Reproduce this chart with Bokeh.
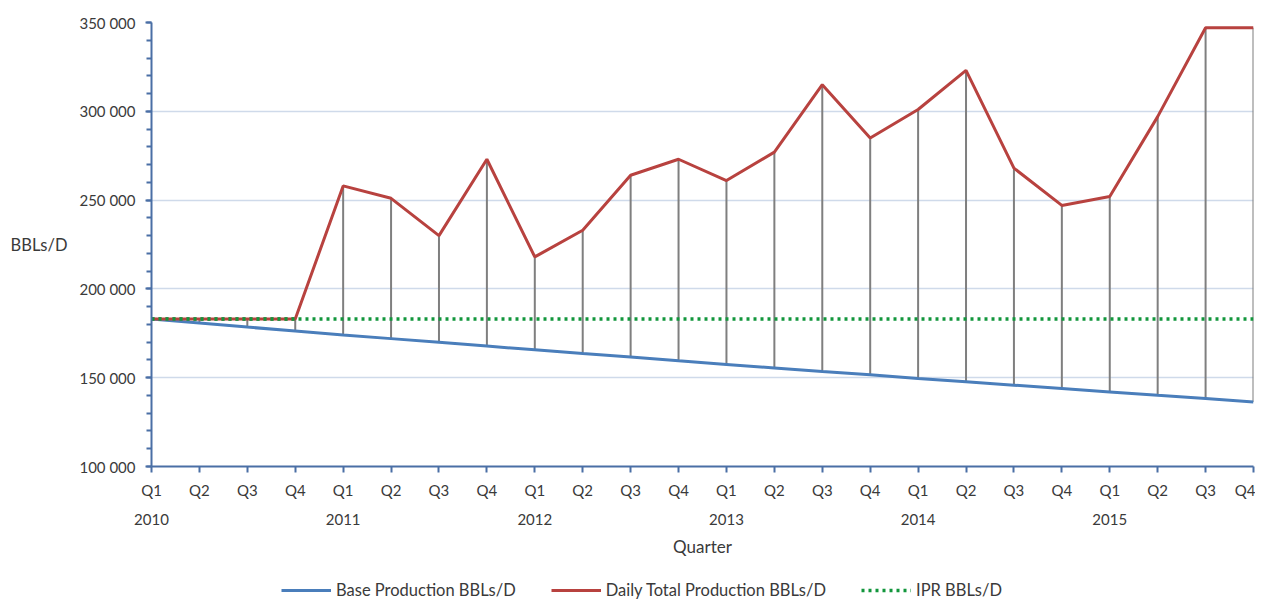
from bokeh.plotting import figure
from bokeh.models import (LinearAxis, FixedTicker, Legend, LegendItem, Range1d)
from bokeh.layouts import column
from bokeh.embed import file_html
from bokeh.resources import INLINE

quarters = ["Q1", "Q2", "Q3", "Q4"] * 6
years = ["2010", "2011", "2012", "2013", "2014", "2015"]
base_production = [183000, 180800, 178500, 176300, 174100, 172000, 169900, 167800,
                   165700, 163600, 161600, 159500, 157500, 155500, 153500, 151600,
                   149600, 147700, 145800, 143900, 142000, 140100, 138300, 136300]
daily_total = [183000, 183000, 183000, 183000, 258000, 251000, 230000, 273000,
               218000, 233000, 264000, 273000, 261000, 277000, 315000, 285000,
               301000, 323000, 268000, 247000, 252000, 297000, 347000, 347000]
ipr = [183000] * 24
y_ticks = [100000, 150000, 200000, 250000, 300000, 350000]
y_tick_labels = ["100 000", "150 000", "200 000", "250 000", "300 000", "350 000"]
series_names = ["Base Production BBLs/D", "Daily Total Production BBLs/D", "IPR BBLs/D"]

x = list(range(len(quarters)))
FONT = "Lato"
TXT = "#3a3a3a"
AXIS = "#4a6fa5"
C_BASE = "#4a7ebb"
C_TOT = "#b8423f"
C_IPR = "#12963c"

p = figure(width=1255, height=560, output_backend="svg", toolbar_location=None,
           x_range=Range1d(0, len(x) - 1), y_range=Range1d(100000, 350000),
           min_border_left=151, min_border_right=2, min_border_top=22,
           min_border_bottom=94)
p.outline_line_color = None
p.background_fill_color = "white"

# drop lines
p.segment(x0=x, y0=base_production, x1=x, y1=daily_total,
          line_color="#7f7f7f", line_width=2)
p.line(x, ipr, line_color=C_IPR, line_width=3.5, line_dash="3 4")
p.line(x, base_production, line_color=C_BASE, line_width=3)
p.line(x, daily_total, line_color=C_TOT, line_width=3)
p.line(x[:4], ipr[:4], line_color=C_IPR, line_width=3.5, line_dash="3 4")

# grid
p.xgrid.grid_line_color = None
p.ygrid.grid_line_color = "#cfdaea"
p.ygrid.grid_line_width = 1.5
p.ygrid.ticker = FixedTicker(ticks=y_ticks)

# y axis
ya = p.yaxis[0]
ya.ticker = FixedTicker(ticks=y_ticks,
                        minor_ticks=list(range(100000, 350001, 10000)))
ya.major_label_overrides = {t: l for t, l in zip(y_ticks, y_tick_labels)}
ya.axis_line_color = AXIS
ya.axis_line_width = 2
ya.major_tick_line_color = AXIS
ya.minor_tick_line_color = AXIS
ya.major_tick_line_width = 2
ya.minor_tick_line_width = 2
ya.major_tick_in = 0
ya.major_tick_out = 6
ya.minor_tick_in = 0
ya.minor_tick_out = 5
ya.major_label_standoff = 10
ya.major_label_text_font = FONT
ya.major_label_text_font_size = "15px"
ya.major_label_text_color = TXT
ya.axis_label = "BBLs/D"
ya.axis_label_orientation = "horizontal"
ya.axis_label_text_font = FONT
ya.axis_label_text_font_style = "normal"
ya.axis_label_text_font_size = "16.5px"
ya.axis_label_text_color = TXT
ya.axis_label_standoff = 9

# x axis (quarters)
xa = p.xaxis[0]
xa.ticker = FixedTicker(ticks=x, minor_ticks=[])
xa.major_label_overrides = {i: q for i, q in zip(x, quarters)}
xa.axis_line_color = AXIS
xa.axis_line_width = 2
xa.major_tick_line_color = AXIS
xa.major_tick_line_width = 2
xa.major_tick_in = 0
xa.major_tick_out = 6
xa.minor_tick_line_color = None
xa.major_label_standoff = 8
xa.major_label_text_font = FONT
xa.major_label_text_font_size = "15px"
xa.major_label_text_color = TXT

# year axis
year_ticks = x[::4]
ya2 = LinearAxis(ticker=FixedTicker(ticks=year_ticks, minor_ticks=[]),
                 major_label_overrides={t: y for t, y in zip(year_ticks, years)})
ya2.axis_line_color = None
ya2.major_tick_line_color = None
ya2.minor_tick_line_color = None
ya2.major_tick_out = 0
ya2.major_tick_in = 0
ya2.major_label_standoff = 12
ya2.major_label_text_font = FONT
ya2.major_label_text_font_size = "15px"
ya2.major_label_text_color = TXT
ya2.axis_label = "Quarter"
ya2.axis_label_text_font = FONT
ya2.axis_label_text_font_style = "normal"
ya2.axis_label_text_font_size = "17px"
ya2.axis_label_text_color = TXT
ya2.axis_label_standoff = 8
p.add_layout(ya2, "below")

# legend strip (series drawn out of view, only their legend glyphs show)
lg = figure(width=1255, height=40, output_backend="svg", toolbar_location=None,
            x_range=Range1d(0, 1), y_range=Range1d(0, 1),
            x_axis_type=None, y_axis_type=None, min_border=0)
lg.outline_line_color = None
lg.grid.visible = False
r_base = lg.line(x, base_production, line_color=C_BASE, line_width=3)
r_tot = lg.line(x, daily_total, line_color=C_TOT, line_width=3)
r_ipr = lg.line(x, ipr, line_color=C_IPR, line_width=3.5, line_dash="3 4")

legend = Legend(items=[
    LegendItem(label=series_names[0], renderers=[r_base]),
    LegendItem(label=series_names[1], renderers=[r_tot]),
    LegendItem(label=series_names[2], renderers=[r_ipr]),
], orientation="horizontal", location=(130, 0))
legend.border_line_color = None
legend.background_fill_alpha = 0
legend.label_text_font = FONT
legend.label_text_font_size = "16.5px"
legend.label_text_color = TXT
legend.glyph_width = 50
legend.spacing = 35
legend.label_standoff = 5
legend.padding = 2
legend.margin = 0
lg.add_layout(legend, "center")

open("out.html", "w").write(file_html(column(p, lg, spacing=0), INLINE))
